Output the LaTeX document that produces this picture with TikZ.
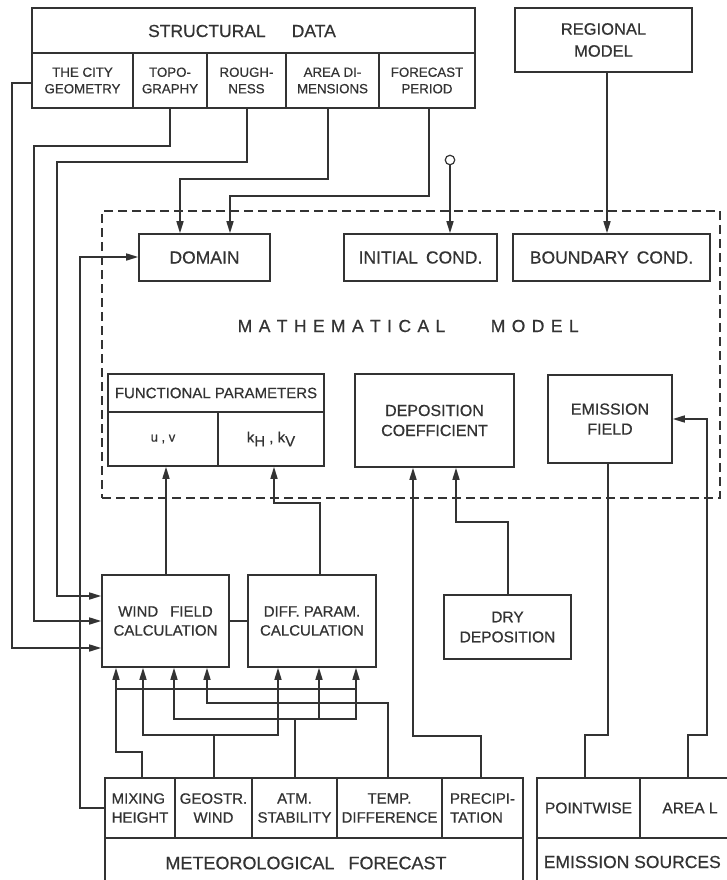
\documentclass[tikz,border=0pt]{standalone}
\usepackage{fontspec}
\setmainfont{Liberation Sans}[FakeBold=0.6]
\usetikzlibrary{arrows.meta}
\definecolor{ink}{HTML}{333333}
\def\spacedi#1{\ifx#1\relax\else#1\kern6.4pt\expandafter\spacedi\fi}
\def\spaced#1{\spacedi#1\relax}
\begin{document}
\begin{tikzpicture}[x=1pt,y=-1pt,line width=1.6pt,color=ink,
  box/.style={draw,rectangle,inner sep=0pt,align=center},
  arr/.style={-{Triangle[length=12pt,width=7pt]}},
  fa/.style={font=\fontsize{13.3}{16.5}\selectfont},
  fb/.style={font=\fontsize{15}{19}\selectfont},
  fc/.style={font=\fontsize{16}{20}\selectfont},
  fd/.style={font=\fontsize{17.5}{22}\selectfont}]
\useasboundingbox (0,0) rectangle (726,880);

% ---------- structural data ----------
\node[box,minimum width=443pt,minimum height=45pt] (sd) at (253.5,30.5) {};
\node[fd] (sdt) at (242,31) {STRUCTURAL\hspace{26pt}DATA};
\node[box,fa,minimum width=101pt,minimum height=55pt] (city) at (82.5,80.5) {THE CITY\\GEOMETRY};
\node[box,fa,minimum width=74pt,minimum height=55pt] (topo) at (170,80.5) {TOPO-\\GRAPHY};
\node[box,fa,minimum width=79pt,minimum height=55pt] (rough) at (246.5,80.5) {ROUGH-\\NESS};
\node[box,fa,minimum width=93pt,minimum height=55pt] (area) at (332.5,80.5) {AREA DI-\\MENSIONS};
\node[box,fa,minimum width=96pt,minimum height=55pt] (fper) at (427,80.5) {FORECAST\\PERIOD};

\node[box,minimum width=177pt,minimum height=64pt,font=\fontsize{16.5}{22}\selectfont] (reg) at (603.5,40) {REGIONAL\\MODEL};

% ---------- mathematical model ----------
\node[draw,dash pattern=on 9pt off 5pt,line width=1.3pt,minimum width=618pt,minimum height=287pt,inner sep=0pt] (mm) at (411,354.5) {};
\node[box,fd,minimum width=131pt,minimum height=47pt] (domain) at (204.5,257.5) {DOMAIN};
\node[box,fd,minimum width=153pt,minimum height=47pt] (init) at (420.5,257.5) {INITIAL\hspace{8pt}COND.};
\node[box,fd,minimum width=197pt,minimum height=47pt] (bound) at (611.5,257.5) {BOUNDARY\hspace{8pt}COND.};
\node[fd,anchor=west,inner sep=0pt] (mt1) at (237,326) {\spaced{MATHEMATICAL}};
\node[fd,anchor=west,inner sep=0pt] (mt2) at (490,326) {\spaced{MODEL}};

\node[box,fb,minimum width=216pt,minimum height=38pt] (fp) at (216,393) {FUNCTIONAL PARAMETERS};
\node[box,minimum width=110pt,minimum height=54pt,font=\fontsize{13}{16}\selectfont] (uv) at (163,439) {u , v};
\node[box,fb,minimum width=106pt,minimum height=54pt] (kh) at (271,439) {k{\raisebox{-4pt}{\fontsize{15}{15}\selectfont H}} , k{\raisebox{-4pt}{\fontsize{15}{15}\selectfont V}}};
\node[box,fc,minimum width=159pt,minimum height=93pt] (dep) at (434.5,420.5) {DEPOSITION\\COEFFICIENT};
\node[box,fc,minimum width=124pt,minimum height=88pt] (emf) at (610,419) {EMISSION\\FIELD};

% ---------- calculations ----------
\node[box,fb,minimum width=127pt,minimum height=92pt] (wfc) at (165.5,621) {WIND\hspace{12pt}FIELD\\CALCULATION};
\node[box,fb,minimum width=128pt,minimum height=92pt] (dpc) at (312,621) {DIFF. PARAM.\\CALCULATION};
\node[box,minimum width=127pt,minimum height=64pt,font=\fontsize{15.5}{20}\selectfont] (dry) at (507.5,627) {DRY\\DEPOSITION};

% ---------- meteorological forecast ----------
\node[box,fb,minimum width=70pt,minimum height=60pt,align=left] (mix) at (140,808) {MIXING\\HEIGHT};
\node[box,fb,minimum width=77pt,minimum height=60pt] (geo) at (213.5,808) {GEOSTR.\\WIND};
\node[box,fb,minimum width=85pt,minimum height=60pt] (atm) at (294.5,808) {ATM.\\STABILITY};
\node[box,fb,minimum width=105pt,minimum height=60pt] (temp) at (389.5,808) {TEMP.\\DIFFERENCE};
\node[box,fb,minimum width=81pt,minimum height=60pt,align=left] (prec) at (482.5,808) {PRECIPI-\\TATION};
\node[box,minimum width=418pt,minimum height=48pt] (met) at (314,862) {};
\node[font=\fontsize{18}{22}\selectfont] (mett) at (306,863) {METEOROLOGICAL\hspace{14pt}FORECAST};

% ---------- emission sources ----------
\node[box,minimum width=103pt,minimum height=60pt,font=\fontsize{15.5}{19}\selectfont] (pw) at (588.5,808) {POINTWISE};
\node[box,minimum width=102pt,minimum height=60pt] (al) at (691,808) {};
\node[font=\fontsize{15.5}{19}\selectfont] (alt) at (690,808) {AREA L};
\node[box,minimum width=205pt,minimum height=48pt] (es) at (639.5,862) {};
\node[anchor=west,inner sep=0pt,font=\fontsize{17.5}{22}\selectfont] (est) at (543,862) {EMISSION SOURCES};

% ---------- connectors: structural data ----------
\draw[arr] ([yshift=-2.5pt]city.west) -| (12,648) -- ([yshift=-27pt]wfc.west);
\draw[arr] (topo.south) |- (34,146) |- (wfc.west);
\draw[arr] ([xshift=0.5pt]rough.south) |- (57,162) |- ([yshift=25pt]wfc.west);
\draw[arr] ([xshift=-4.5pt]area.south) |- (180,179) -- ([xshift=-24.5pt]domain.north);
\draw[arr] ([xshift=2pt]fper.south) |- (230,196) -- ([xshift=25.5pt]domain.north);

\node[draw,circle,minimum size=9.5pt,inner sep=0pt,line width=1.2pt] (ic0) at (450,160) {};
\draw[arr] (ic0.south) -- (ic0.south |- init.north);
\draw[arr] ([xshift=3.5pt]reg.south) -- ([xshift=3.5pt]reg.south |- bound.north);

% mixing height -> domain
\draw[arr] (mix.west) -| (80,257) -- ([yshift=0.5pt]domain.west);

% calculations -> functional parameters
\draw[arr] ([xshift=0.5pt]wfc.north) -- ([xshift=0.5pt]wfc.north |- uv.south);
\draw[arr] ([xshift=8pt]dpc.north) |- (274,503) -- ([xshift=3pt]kh.south);
\draw (wfc.east) -- (dpc.west);

% emission
\draw ([xshift=-2pt]emf.south) |- (585,735) -- ([xshift=-3.5pt]pw.north);
\draw[arr] ([xshift=-3pt]al.north) |- (707,735) |- (emf.east);

% deposition
\draw[arr] ([xshift=-1.5pt]prec.north) |- (413,736) -- ([xshift=-21.5pt]dep.south);
\draw[arr] ([xshift=0.5pt]dry.north) |- (456,522) -- ([xshift=21.5pt]dep.south);

% meteorological tangle
\coordinate (j1) at (116,689);
\coordinate (j2) at (356,689);
\coordinate (j3) at (319,719);
\draw[arr] ([xshift=2pt]mix.north) |- (116,752) -- ([xshift=-49.5pt]wfc.south);
\draw (j1) -- (j2);
\draw[arr] ([xshift=0.5pt]geo.north) |- (143,735) -- ([xshift=-22.5pt]wfc.south);
\draw[arr] ([xshift=0.5pt]geo.north) |- (278,735) -- ([xshift=-34pt]dpc.south);
\draw[arr] ([xshift=0.5pt]atm.north) |- (174,719) -- ([xshift=8.5pt]wfc.south);
\draw[arr] ([xshift=0.5pt]atm.north) |- (356,719) -- ([xshift=44pt]dpc.south);
\draw[arr] (j3) -- ([xshift=7pt]dpc.south);
\draw[arr] ([xshift=-1.5pt]temp.north) |- (207,703) -- ([xshift=41.5pt]wfc.south);
\end{tikzpicture}
\end{document}
